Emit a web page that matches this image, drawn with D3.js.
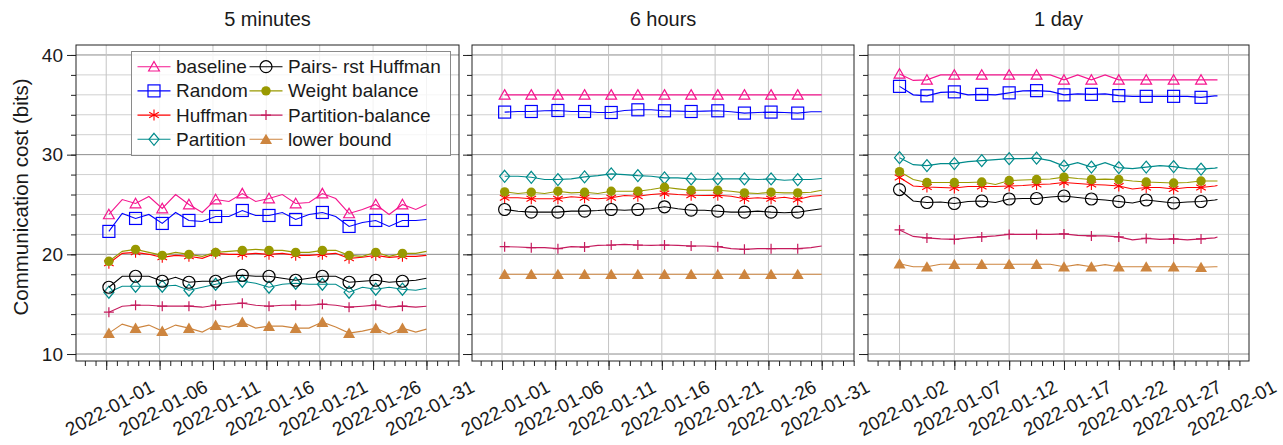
<!DOCTYPE html>
<html>
<head>
<meta charset="utf-8">
<script src="https://cdn.jsdelivr.net/npm/d3@7"></script>
<style>
  body { margin: 0; background: #fff; }
  text { font-family: "Liberation Sans", Arial, Helvetica, sans-serif; fill: #1a1a1a; }
</style>
</head>
<body>
<svg id="chart" width="1283" height="445"></svg>
<script>
// ---- data ----
const panelTitles = ["5 minutes", "6 hours", "1 day"];
const seriesNames = ["baseline", "Random", "Huffman", "Partition",
                     "Pairs- rst Huffman", "Weight balance", "Partition-balance", "lower bound"];

// first sample, last sample of every panel (samples every 30 hours in between)
const panelStarts = ["2022-01-01T06:00", "2022-01-01T06:00", "2022-01-02T00:00"];
const panelEnds   = ["2022-01-31T00:00", "2022-01-31T00:00", "2022-01-31T00:00"];

const tickLabels5min  = ["2022-01-01", "2022-01-06", "2022-01-11", "2022-01-16", "2022-01-21", "2022-01-26", "2022-01-31"];
const tickLabels6hour = ["2022-01-01", "2022-01-06", "2022-01-11", "2022-01-16", "2022-01-21", "2022-01-26", "2022-01-31"];
const tickLabels1day  = ["2022-01-02", "2022-01-07", "2022-01-12", "2022-01-17", "2022-01-22", "2022-01-27", "2022-02-01"];
const yTickLabels = [10, 20, 30, 40];

// 5 minutes
const baseline_5min  = [24.0, 25.5, 25.1, 25.8, 24.6, 26.0, 25.0, 24.2, 25.5, 25.3, 26.1, 25.3, 25.6, 26.0, 25.1, 25.2, 26.1, 25.6, 24.1, 24.5, 25.0, 24.0, 25.0, 24.5, 25.0];
const random_5min    = [22.3, 24.1, 23.6, 24.0, 23.1, 24.2, 23.4, 23.3, 23.8, 23.8, 24.4, 23.9, 23.9, 24.2, 23.5, 24.0, 24.2, 23.8, 22.8, 23.2, 23.4, 22.8, 23.4, 23.4, 23.5];
const huffman_5min   = [19.1, 20.1, 20.2, 20.0, 19.7, 19.9, 19.8, 19.6, 20.1, 20.0, 20.0, 20.1, 20.0, 20.1, 19.9, 19.9, 20.0, 20.1, 19.6, 19.7, 19.9, 19.7, 19.8, 19.8, 19.9];
const partition_5min = [16.2, 16.8, 16.8, 16.8, 16.8, 16.9, 16.4, 16.7, 17.0, 17.2, 17.3, 17.1, 16.7, 17.0, 17.1, 17.0, 17.0, 17.0, 16.2, 16.7, 16.5, 16.7, 16.5, 16.4, 16.6];
const pairs_5min     = [16.7, 17.8, 17.8, 17.8, 17.3, 17.7, 17.2, 17.3, 17.3, 17.8, 17.9, 17.8, 17.8, 17.6, 17.4, 17.6, 17.8, 17.8, 17.2, 17.3, 17.4, 17.2, 17.3, 17.4, 17.6];
const weight_5min    = [19.3, 20.3, 20.5, 20.2, 19.9, 20.2, 20.0, 19.8, 20.2, 20.3, 20.4, 20.5, 20.4, 20.4, 20.2, 20.2, 20.4, 20.4, 19.9, 19.8, 20.2, 19.8, 20.1, 20.1, 20.3];
const pbalance_5min  = [14.2, 14.8, 14.9, 14.9, 14.8, 14.8, 14.8, 14.7, 14.9, 15.0, 15.1, 14.9, 14.8, 14.9, 14.9, 14.9, 15.0, 14.9, 14.7, 14.8, 14.9, 14.7, 14.8, 14.7, 14.8];
const lower_5min     = [12.1, 13.0, 12.6, 12.9, 12.3, 12.9, 12.6, 12.2, 12.9, 12.7, 13.2, 12.6, 12.8, 12.8, 12.6, 12.6, 13.2, 12.7, 12.1, 12.3, 12.6, 12.0, 12.6, 12.2, 12.5];

// 6 hours
const baseline_6hour  = [36.0, 36.0, 36.0, 36.0, 36.0, 36.0, 36.0, 36.0, 36.0, 36.0, 36.0, 36.0, 36.0, 36.0, 36.0, 36.0, 36.0, 36.0, 36.0, 36.0, 36.0, 36.0, 36.0, 36.0, 36.0];
const random_6hour    = [34.27, 34.33, 34.33, 34.4, 34.43, 34.33, 34.33, 34.23, 34.23, 34.43, 34.5, 34.5, 34.4, 34.37, 34.33, 34.37, 34.4, 34.3, 34.17, 34.23, 34.27, 34.23, 34.17, 34.3, 34.3];
const huffman_6hour   = [25.67, 25.67, 25.57, 25.57, 25.57, 25.77, 25.67, 25.57, 25.67, 25.9, 25.83, 26.0, 26.1, 26.0, 25.93, 25.9, 25.93, 25.83, 25.57, 25.67, 25.57, 25.73, 25.5, 25.83, 25.9];
const partition_6hour = [27.83, 27.83, 27.73, 27.5, 27.5, 27.57, 27.77, 27.9, 28.07, 28.0, 27.9, 27.83, 27.67, 27.67, 27.57, 27.5, 27.57, 27.57, 27.57, 27.5, 27.57, 27.43, 27.5, 27.5, 27.6];
const pairs_6hour     = [24.5, 24.33, 24.23, 24.23, 24.23, 24.33, 24.33, 24.4, 24.5, 24.43, 24.5, 24.57, 24.77, 24.57, 24.43, 24.43, 24.33, 24.23, 24.23, 24.33, 24.23, 24.17, 24.23, 24.43, 24.57];
const weight_6hour    = [26.27, 26.1, 26.23, 26.1, 26.33, 26.17, 26.23, 26.1, 26.33, 26.33, 26.33, 26.5, 26.73, 26.57, 26.43, 26.43, 26.43, 26.33, 26.17, 26.1, 26.23, 26.17, 26.17, 26.23, 26.43];
const pbalance_6hour  = [20.77, 20.73, 20.67, 20.67, 20.57, 20.77, 20.73, 20.9, 20.93, 21.0, 20.93, 20.9, 20.93, 20.9, 20.83, 20.83, 20.77, 20.57, 20.5, 20.57, 20.57, 20.57, 20.57, 20.67, 20.83];
const lower_6hour     = [18.0, 18.0, 18.0, 18.0, 18.0, 18.0, 18.0, 18.0, 18.0, 18.0, 18.0, 18.0, 18.0, 18.0, 18.0, 18.0, 18.0, 18.0, 18.0, 18.0, 18.0, 18.0, 18.0, 18.0, 18.0];

// 1 day
const baseline_1day  = [38.1, 37.45, 37.5, 38.0, 38.0, 38.0, 38.0, 38.0, 38.0, 38.0, 38.0, 38.0, 37.5, 38.0, 37.5, 38.0, 37.5, 37.5, 37.5, 37.5, 37.5, 37.5, 37.5, 37.5, 37.5];
const random_1day    = [36.85, 36.0, 35.9, 36.25, 36.3, 36.0, 36.05, 36.0, 36.2, 36.4, 36.42, 36.35, 36.0, 36.1, 36.05, 36.1, 35.92, 35.85, 35.85, 35.85, 35.85, 35.85, 35.75, 35.9, 35.9];
const huffman_1day   = [27.7, 26.85, 26.75, 26.7, 26.65, 26.8, 26.8, 26.8, 26.85, 26.9, 27.0, 27.05, 27.2, 27.1, 27.0, 26.95, 26.85, 26.55, 26.7, 26.7, 26.55, 26.7, 26.7, 26.85, 26.9];
const partition_1day = [29.7, 29.0, 28.9, 29.1, 29.1, 29.3, 29.4, 29.5, 29.6, 29.6, 29.65, 29.4, 28.85, 29.2, 28.75, 29.2, 28.7, 28.6, 28.75, 28.9, 28.8, 28.6, 28.55, 28.65, 28.7];
const pairs_1day     = [26.5, 25.35, 25.2, 25.25, 25.1, 25.3, 25.35, 25.2, 25.55, 25.6, 25.6, 25.75, 25.85, 25.7, 25.55, 25.45, 25.3, 25.15, 25.45, 25.3, 25.15, 25.25, 25.3, 25.45, 25.5];
const weight_1day    = [28.3, 27.5, 27.2, 27.2, 27.2, 27.2, 27.25, 27.0, 27.4, 27.45, 27.5, 27.55, 27.75, 27.6, 27.5, 27.55, 27.5, 27.35, 27.25, 27.2, 27.15, 27.2, 27.35, 27.35, 27.35];
const pbalance_1day  = [22.45, 21.8, 21.65, 21.55, 21.5, 21.65, 21.75, 21.85, 22.0, 22.0, 22.0, 22.0, 22.05, 21.9, 21.85, 21.85, 21.75, 21.45, 21.6, 21.5, 21.55, 21.45, 21.55, 21.65, 21.75];
const lower_1day     = [19.05, 18.75, 18.75, 19.0, 19.0, 19.0, 19.0, 19.0, 19.0, 19.0, 19.0, 19.0, 18.75, 18.97, 18.75, 18.97, 18.75, 18.75, 18.75, 18.75, 18.75, 18.75, 18.7, 18.75, 18.75];

const panelTicks = [tickLabels5min, tickLabels6hour, tickLabels1day];
const panelValues = [
    [baseline_5min, random_5min, huffman_5min, partition_5min, pairs_5min, weight_5min, pbalance_5min, lower_5min],
    [baseline_6hour, random_6hour, huffman_6hour, partition_6hour, pairs_6hour, weight_6hour, pbalance_6hour, lower_6hour],
    [baseline_1day, random_1day, huffman_1day, partition_1day, pairs_1day, weight_1day, pbalance_1day, lower_1day]
];

// ---- layout and style ----
let chart = d3.select("#chart");
const frameTop = 45, frameBottom = 361;
const panelX = [[76, 459], [472, 854], [868, 1249]];
const panelDomains = [["2021-12-29T04:05", "2022-02-03T01:10"],
                      ["2021-12-29T04:30", "2022-02-03T00:45"],
                      ["2021-12-30T03:00", "2022-02-02T21:00"]];
const seriesStyles = [
    { color: "#f5168f", marker: "triangle" },
    { color: "#0000ff", marker: "square" },
    { color: "#ff0000", marker: "asterisk" },
    { color: "#008b8b", marker: "diamond" },
    { color: "#000000", marker: "circle" },
    { color: "#999900", marker: "dot" },
    { color: "#c51b5d", marker: "plus" },
    { color: "#cd853f", marker: "filledTriangle" }
];

let parseTime = d3.timeParse("%Y-%m-%dT%H:%M");
let parseDay = d3.timeParse("%Y-%m-%d");

let y = d3.scaleLinear()
    .domain([9.3, 41])
    .range([frameBottom, frameTop]);

function drawMarker(g, type, color) {
    if (type == "triangle") {
        g.append("path").attr("d", "M0,-5.2L5.4,4.3L-5.4,4.3Z")
            .attr("fill", "none").attr("stroke", color).attr("stroke-width", 1.2);
    } else if (type == "filledTriangle") {
        g.append("path").attr("d", "M0,-5.6L6,4.8L-6,4.8Z").attr("fill", color);
    } else if (type == "square") {
        g.append("rect").attr("x", -6).attr("y", -6).attr("width", 12).attr("height", 12)
            .attr("fill", "none").attr("stroke", color).attr("stroke-width", 1.2);
    } else if (type == "diamond") {
        g.append("path").attr("d", "M0,-6L5,0L0,6L-5,0Z")
            .attr("fill", "none").attr("stroke", color).attr("stroke-width", 1.2);
    } else if (type == "circle") {
        g.append("circle").attr("r", 6)
            .attr("fill", "none").attr("stroke", color).attr("stroke-width", 1.2);
    } else if (type == "dot") {
        g.append("circle").attr("r", 4.7).attr("fill", color);
    } else if (type == "plus") {
        g.append("path").attr("d", "M-5,0H5M0,-5V5")
            .attr("stroke", color).attr("stroke-width", 1.2);
    } else if (type == "asterisk") {
        g.append("path").attr("d", "M0,-5.5V5.5M-4.8,-2.75L4.8,2.75M-4.8,2.75L4.8,-2.75")
            .attr("stroke", color).attr("stroke-width", 1.1);
    }
}

function drawPanel(p) {
    let x = d3.scaleTime()
        .domain(panelDomains[p].map(parseTime))
        .range(panelX[p]);
    let g = chart.append("g");
    let majors = panelTicks[p].map(parseDay);

    // grid lines
    g.selectAll(".hgrid")
        .data(d3.range(10, 41, 2))
        .enter()
        .append("line")
        .attr("x1", panelX[p][0]).attr("x2", panelX[p][1])
        .attr("y1", d => y(d)).attr("y2", d => y(d))
        .attr("stroke", d => d % 10 == 0 ? "#8c8c8c" : "#d0d0d0");
    g.selectAll(".vgrid")
        .data(majors)
        .enter()
        .append("line")
        .attr("x1", d => x(d)).attr("x2", d => x(d))
        .attr("y1", frameTop).attr("y2", frameBottom)
        .attr("stroke", "#c4c4c4");

    // sample times: one every 30 hours, then the last point
    let start = parseTime(panelStarts[p]);
    let times = d3.range(24).map(k => d3.timeHour.offset(start, 30 * k))
        .concat([parseTime(panelEnds[p])]);

    panelValues[p].forEach(function(vals, s) {
        let pts = vals.map((v, i) => ({ t: times[i], v: v }));
        g.append("path")
            .datum(pts)
            .attr("fill", "none")
            .attr("stroke", seriesStyles[s].color)
            .attr("stroke-width", 1.1)
            .attr("d", d3.line()
                .x(d => x(d.t))
                .y(d => y(d.v)));
        g.selectAll(null)
            .data(pts.filter((d, i) => i % 2 == 0 && i < 24))
            .enter()
            .append("g")
            .attr("transform", d => "translate(" + x(d.t) + "," + y(d.v) + ")")
            .each(function() { drawMarker(d3.select(this), seriesStyles[s].marker, seriesStyles[s].color); });
    });

    // frame
    g.append("rect")
        .attr("x", panelX[p][0]).attr("y", frameTop)
        .attr("width", panelX[p][1] - panelX[p][0]).attr("height", frameBottom - frameTop)
        .attr("fill", "none").attr("stroke", "#222");

    // x axis: daily minor ticks and labelled major ticks
    let xMinor = d3.axisBottom(x)
        .tickValues(d3.timeDay.range(x.domain()[0], x.domain()[1]))
        .tickSize(5)
        .tickFormat("");
    g.append("g")
        .attr("transform", "translate(0," + frameBottom + ")")
        .attr("color", "#222")
        .call(xMinor)
        .call(a => a.select(".domain").remove());

    let xAxis = d3.axisBottom(x)
        .tickValues(majors)
        .tickSize(9)
        .tickFormat(d3.timeFormat("%Y-%m-%d"));
    let xg = g.append("g")
        .attr("transform", "translate(0," + frameBottom + ")")
        .attr("color", "#222")
        .attr("font-size", null).attr("font-family", null)
        .call(xAxis);
    xg.select(".domain").remove();
    xg.selectAll("text")
        .attr("y", null).attr("dy", null)
        .attr("transform", "translate(3,47) rotate(-28)")
        .attr("dominant-baseline", "central")
        .style("text-anchor", "middle")
        .style("font-size", "19px");

    // y axis: ticks on every panel, labels only on the first one
    let yMinor = d3.axisLeft(y)
        .tickValues(d3.range(10, 41, 2))
        .tickSize(5)
        .tickFormat("");
    g.append("g")
        .attr("transform", "translate(" + panelX[p][0] + ",0)")
        .attr("color", "#222")
        .call(yMinor)
        .call(a => a.select(".domain").remove());
    let yAxis = d3.axisLeft(y)
        .tickValues(yTickLabels)
        .tickSize(9)
        .tickPadding(4)
        .tickFormat(p == 0 ? d3.format("d") : "");
    let yg = g.append("g")
        .attr("transform", "translate(" + panelX[p][0] + ",0)")
        .attr("color", "#222")
        .attr("font-size", null).attr("font-family", null)
        .call(yAxis);
    yg.select(".domain").remove();
    yg.selectAll("text").style("font-size", "19px");

    // title
    chart.append("text")
        .text(panelTitles[p])
        .attr("x", (panelX[p][0] + panelX[p][1]) / 2)
        .attr("y", 26)
        .style("text-anchor", "middle")
        .style("font-size", "20px");
}

panelTitles.forEach(function(t, p) { drawPanel(p); });

// y label
chart.append("text")
    .text("Communication cost (bits)")
    .attr("transform", "translate(28,197) rotate(-90)")
    .style("text-anchor", "middle")
    .style("font-size", "20.5px");

// legend, two columns of four
let legend = chart.append("g");
legend.append("rect")
    .attr("x", 131.5).attr("y", 51.5)
    .attr("width", 319).attr("height", 104)
    .attr("fill", "#fff").attr("fill-opacity", 0.8)
    .attr("stroke", "#8a8a8a");
seriesNames.forEach(function(name, i) {
    let lx = [137.5, 249.5][Math.floor(i / 4)];
    let ly = 66.7 + (i % 4) * 24.2;
    legend.append("line")
        .attr("x1", lx).attr("x2", lx + 33)
        .attr("y1", ly).attr("y2", ly)
        .attr("stroke", seriesStyles[i].color).attr("stroke-width", 1.1);
    let m = legend.append("g").attr("transform", "translate(" + (lx + 16.5) + "," + ly + ")");
    drawMarker(m, seriesStyles[i].marker, seriesStyles[i].color);
    legend.append("text")
        .text(name)
        .attr("x", lx + 38.5)
        .attr("y", ly)
        .attr("dominant-baseline", "central")
        .style("font-size", "19px");
});
</script>
</body>
</html>
